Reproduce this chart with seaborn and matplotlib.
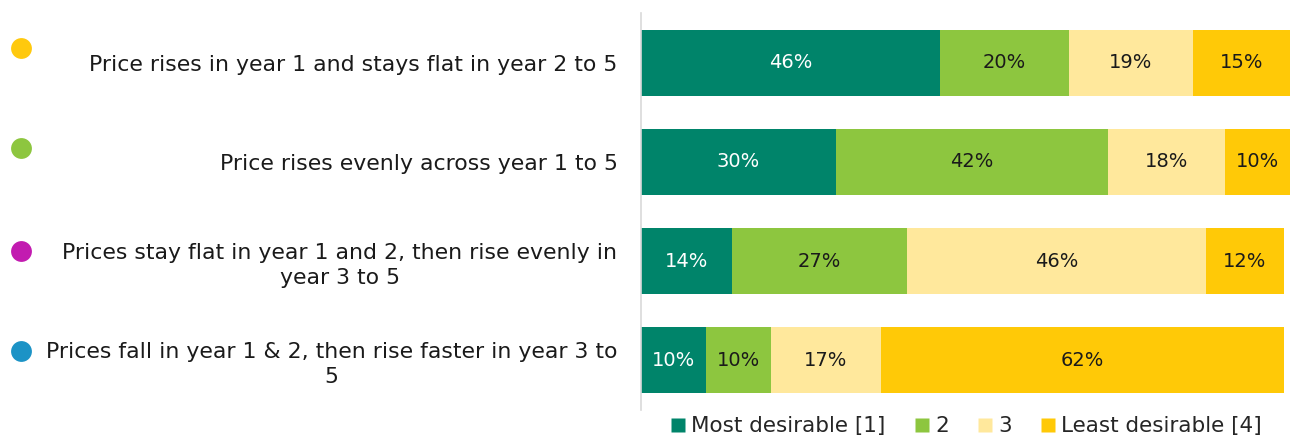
import numpy as np
import pandas as pd
import matplotlib
matplotlib.use("Agg")
import matplotlib.pyplot as plt
from matplotlib.lines import Line2D
import matplotlib.transforms as mtransforms
import seaborn as sns

# Scenarios and share of respondents choosing each desirability rank (%)
scenarios = [
    "Price rises in year 1 and stays flat in year 2 to 5",
    "Price rises evenly across year 1 to 5",
    "Prices stay flat in year 1 and 2, then rise evenly in\nyear 3 to 5",
    "Prices fall in year 1 & 2, then rise faster in year 3 to\n5",
]
rank_labels = ["Most desirable [1]", "2", "3", "Least desirable [4]"]
most_desirable = [46, 30, 14, 10]
rank_2 = [20, 42, 27, 10]
rank_3 = [19, 18, 46, 17]
least_desirable = [15, 10, 12, 62]

scenario_dot_colors = ["#FFC90E", "#8DC63F", "#C21BB0", "#1C93C6"]
rank_colors = ["#00846A", "#8DC63F", "#FFE89C", "#FFC907"]

sns.set_theme(style="white")
plt.rcParams["font.family"] = ["DejaVu Sans"]

series = [most_desirable, rank_2, rank_3, least_desirable]
df = pd.DataFrame({"scenario": scenarios})
cum = np.cumsum(np.array(series), axis=0)
for i, lab in enumerate(rank_labels):
    df[lab] = cum[i]

fig = plt.figure(figsize=(12.9, 4.41), dpi=100)
ax = fig.add_axes([0.4969, 0.0703, 0.5031, 0.9002])

# Stacked bars: draw cumulative totals from the back layer to the front
for i in reversed(range(len(rank_labels))):
    sns.barplot(data=df, y="scenario", x=rank_labels[i], color=rank_colors[i],
                orient="h", width=0.667, saturation=1, ax=ax, linewidth=0)

# Value labels centred in each segment
for i, vals in enumerate(series):
    for j, v in enumerate(vals):
        mid = cum[i][j] - v / 2
        ax.text(mid, j, f"{v}%", ha="center", va="center", fontsize=14,
                color="white" if i == 0 else "#1a1a1a")

ax.set_xlim(0, 100)
ax.set_ylim(3.5, -0.5)
ax.set_xlabel("")
ax.set_ylabel("")
ax.set_xticks([])
ax.tick_params(axis="y", length=0, pad=17, labelsize=15.8, labelcolor="#1a1a1a")
for lbl in ax.get_yticklabels():
    lbl.set_multialignment("center")
    lbl.set_linespacing(1.3)

for s in ["top", "right", "bottom"]:
    ax.spines[s].set_visible(False)
ax.spines["left"].set_color("#D9D9D9")
ax.spines["left"].set_linewidth(1.2)

# Coloured scenario markers at the far left, slightly above each row centre
dot_offsets = [-0.15, -0.135, -0.10, -0.09]
trans = mtransforms.blended_transform_factory(fig.transFigure, ax.transData)
for j, c in enumerate(scenario_dot_colors):
    ax.plot([0.0163], [j + dot_offsets[j]], marker="o", ms=15, color=c, mec="none",
            transform=trans, clip_on=False)

handles = [Line2D([0], [0], marker="s", linestyle="none", ms=9.5,
                  color=c, mec="none") for c in rank_colors]
fig.legend(handles, rank_labels, loc="lower center", bbox_to_anchor=(0.7495, -0.033),
           ncol=4, frameon=False, fontsize=15.5, handlelength=0.6,
           handletextpad=0.3, columnspacing=1.4)

fig.savefig("out.png", dpi=100)
